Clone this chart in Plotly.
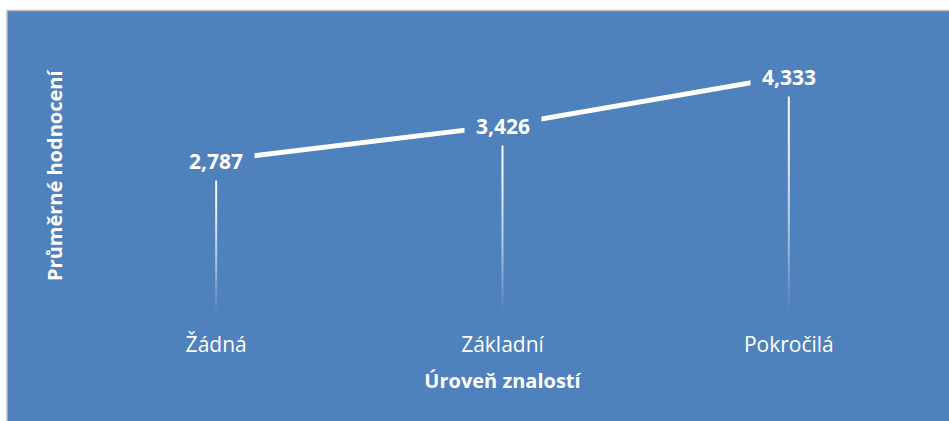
import plotly.graph_objects as go

categories = ["Žádná", "Základní", "Pokročilá"]
values = [2.787, 3.426, 4.333]
x_title = "Úroveň znalostí"
y_title = "Průměrné hodnocení"

BLUE = "#4F81BD"
FONT = "Open Sans"

L, R, T, B = 73, 17, 40, 109
W, H = 949, 421
pw, ph = W - L - R, H - T - B
xpos = list(range(len(categories)))
half = 1.0 / (pw / len(categories))  # ~1 px half-width in axis units

fig = go.Figure()

# gradient drop lines (white fading to transparent toward the axis)
for xi, v in zip(xpos, values):
    fig.add_trace(go.Scatter(
        x=[xi - half, xi + half, xi + half, xi - half, xi - half],
        y=[0, 0, v, v, 0], mode="lines", fill="toself",
        line=dict(width=0, color="rgba(0,0,0,0)"),
        fillgradient=dict(type="vertical", colorscale=[
            [0, "rgba(255,255,255,0.0)"],
            [0.35, "rgba(255,255,255,0.55)"],
            [0.7, "rgba(255,255,255,0.9)"],
            [1, "rgba(255,255,255,1)"]]),
        hoverinfo="skip", showlegend=False))

fig.add_trace(go.Scatter(
    x=xpos, y=values, mode="lines",
    line=dict(color="white", width=5),
    hoverinfo="skip", showlegend=False))

for xi, v in zip(xpos, values):
    fig.add_annotation(
        x=xi, y=v, xref="x", yref="y",
        text=f"<b>{v:.3f}</b>".replace(".", ","),
        showarrow=False, bgcolor=BLUE, width=74, height=37,
        font=dict(family=FONT, size=21, color="white"))

fig.add_annotation(
    x=(54 - L) / pw, y=(T + ph - 176) / ph, xref="paper", yref="paper",
    text=f"<b>{y_title}</b>", textangle=-90, showarrow=False,
    xanchor="center", yanchor="middle",
    font=dict(family=FONT, size=20, color="white"))

fig.add_shape(type="rect", xref="paper", yref="paper", layer="below",
              x0=(7 - L) / pw, x1=(W + 5 - L) / pw,
              y0=(T + ph - (H + 5)) / ph, y1=(T + ph - 10.5) / ph,
              fillcolor=BLUE, line=dict(color="#BFBFBF", width=1.5))

fig.update_layout(
    width=W, height=H,
    margin=dict(l=L, r=R, t=T, b=B),
    paper_bgcolor="white", plot_bgcolor="rgba(0,0,0,0)",
    xaxis=dict(range=[-0.5, 2.5], showgrid=False, tickmode="array",
               tickvals=xpos, ticktext=categories,
               zeroline=False, showline=False, ticks="",
               ticklabelstandoff=18,
               tickfont=dict(family=FONT, size=21, color="white"),
               title=dict(text=f"<b>{x_title}</b>", standoff=16,
                          font=dict(family=FONT, size=20, color="white"))),
    yaxis=dict(range=[0, 5], showgrid=False, zeroline=False,
               showline=False, showticklabels=False, ticks=""),
)

fig.write_html("out.html", config={"displayModeBar": False},
               post_script="document.body.style.margin='0';document.body.style.overflow='hidden';")
